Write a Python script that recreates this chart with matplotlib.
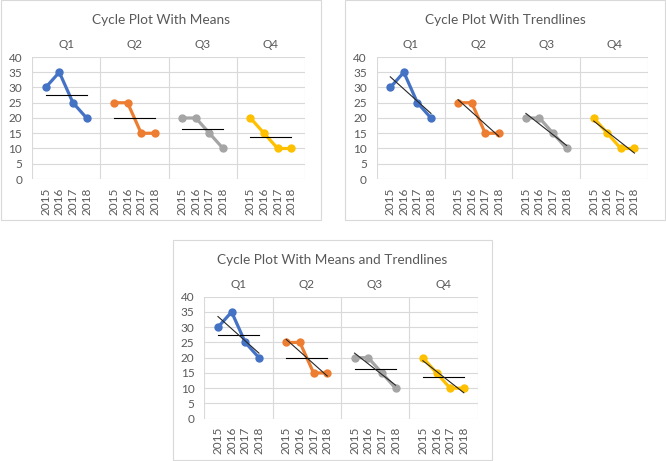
import numpy as np
import matplotlib.pyplot as plt
from matplotlib.patches import Rectangle

plt.rcParams['font.family'] = ['Lato', 'DejaVu Sans']

quarters = ['Q1', 'Q2', 'Q3', 'Q4']
years = ['2015', '2016', '2017', '2018']
q1 = [30, 35, 25, 20]
q2 = [25, 25, 15, 15]
q3 = [20, 20, 15, 10]
q4 = [20, 15, 10, 10]
series = [q1, q2, q3, q4]
colors = ['#4472C4', '#ED7D31', '#A5A5A5', '#FFC000']

W, H = 666, 461
GRID = '#D9D9D9'
TXT = '#595959'

fig = plt.figure(figsize=(W / 100, H / 100), dpi=100)


def px_rect(x0, y0, x1, y1):
    return [x0 / W, 1 - y1 / H, (x1 - x0) / W, (y1 - y0) / H]


def draw_chart(box, plot, title, means, trends):
    bx0, by0, bx1, by1 = box
    fig.patches.append(Rectangle((bx0 / W, 1 - by1 / H), (bx1 - bx0) / W, (by1 - by0) / H,
                                 transform=fig.transFigure, fill=False, edgecolor=GRID, lw=0.8))
    fig.text((bx0 + bx1) / 2 / W, 1 - (by0 + 20) / H, title, ha='center', va='center',
             fontsize=9.8, color=TXT)

    ax = fig.add_axes(px_rect(*plot))
    ax.set_xlim(0, 20)
    ax.set_ylim(0, 40)
    ax.set_yticks(range(0, 45, 5))
    for y in range(5, 45, 5):
        ax.axhline(y, color=GRID, lw=0.8, zorder=0)
    for x in range(0, 25, 5):
        ax.axvline(x, color=GRID, lw=0.8, zorder=0)
    for s in ax.spines.values():
        s.set_visible(False)
    ax.axhline(0, color=GRID, lw=0.8, zorder=0)

    xt = []
    for i, vals in enumerate(series):
        xs = np.arange(1, 5) + i * 5
        xt.extend(xs)
        ax.plot(xs, vals, color=colors[i], lw=2.3, marker='o', ms=5, zorder=2)
        if means:
            m = np.mean(vals)
            ax.plot([xs[0], xs[-1]], [m, m], color='black', lw=0.8, zorder=3)
        if trends:
            k, b = np.polyfit(xs, vals, 1)
            ax.plot([xs[0], xs[-1]], [k * xs[0] + b, k * xs[-1] + b], color='#262626', lw=0.8, zorder=3)
        ax.annotate(quarters[i], xy=(i * 5 + 2.5, 1), xycoords=('data', 'axes fraction'),
                    xytext=(0, 9), textcoords='offset points', ha='center', va='center',
                    fontsize=8.5, color=TXT)

    ax.set_xticks(xt)
    ax.set_xticklabels(years * 4, rotation=90)
    ax.tick_params(length=0, labelsize=8.5, labelcolor=TXT)
    ax.tick_params(axis='x', pad=6)
    ax.tick_params(axis='y', pad=7)


draw_chart((0.5, 0.5, 320.5, 220.5), (32, 57, 305, 179), 'Cycle Plot With Means', True, False)
draw_chart((345, 0.5, 665, 220.5), (376.7, 57, 648, 179), 'Cycle Plot With Trendlines', False, True)
draw_chart((172.5, 240, 492.5, 460), (204.3, 296.7, 477.5, 418.7), 'Cycle Plot With Means and Trendlines', True, True)

fig.savefig('out.png', dpi=100)
